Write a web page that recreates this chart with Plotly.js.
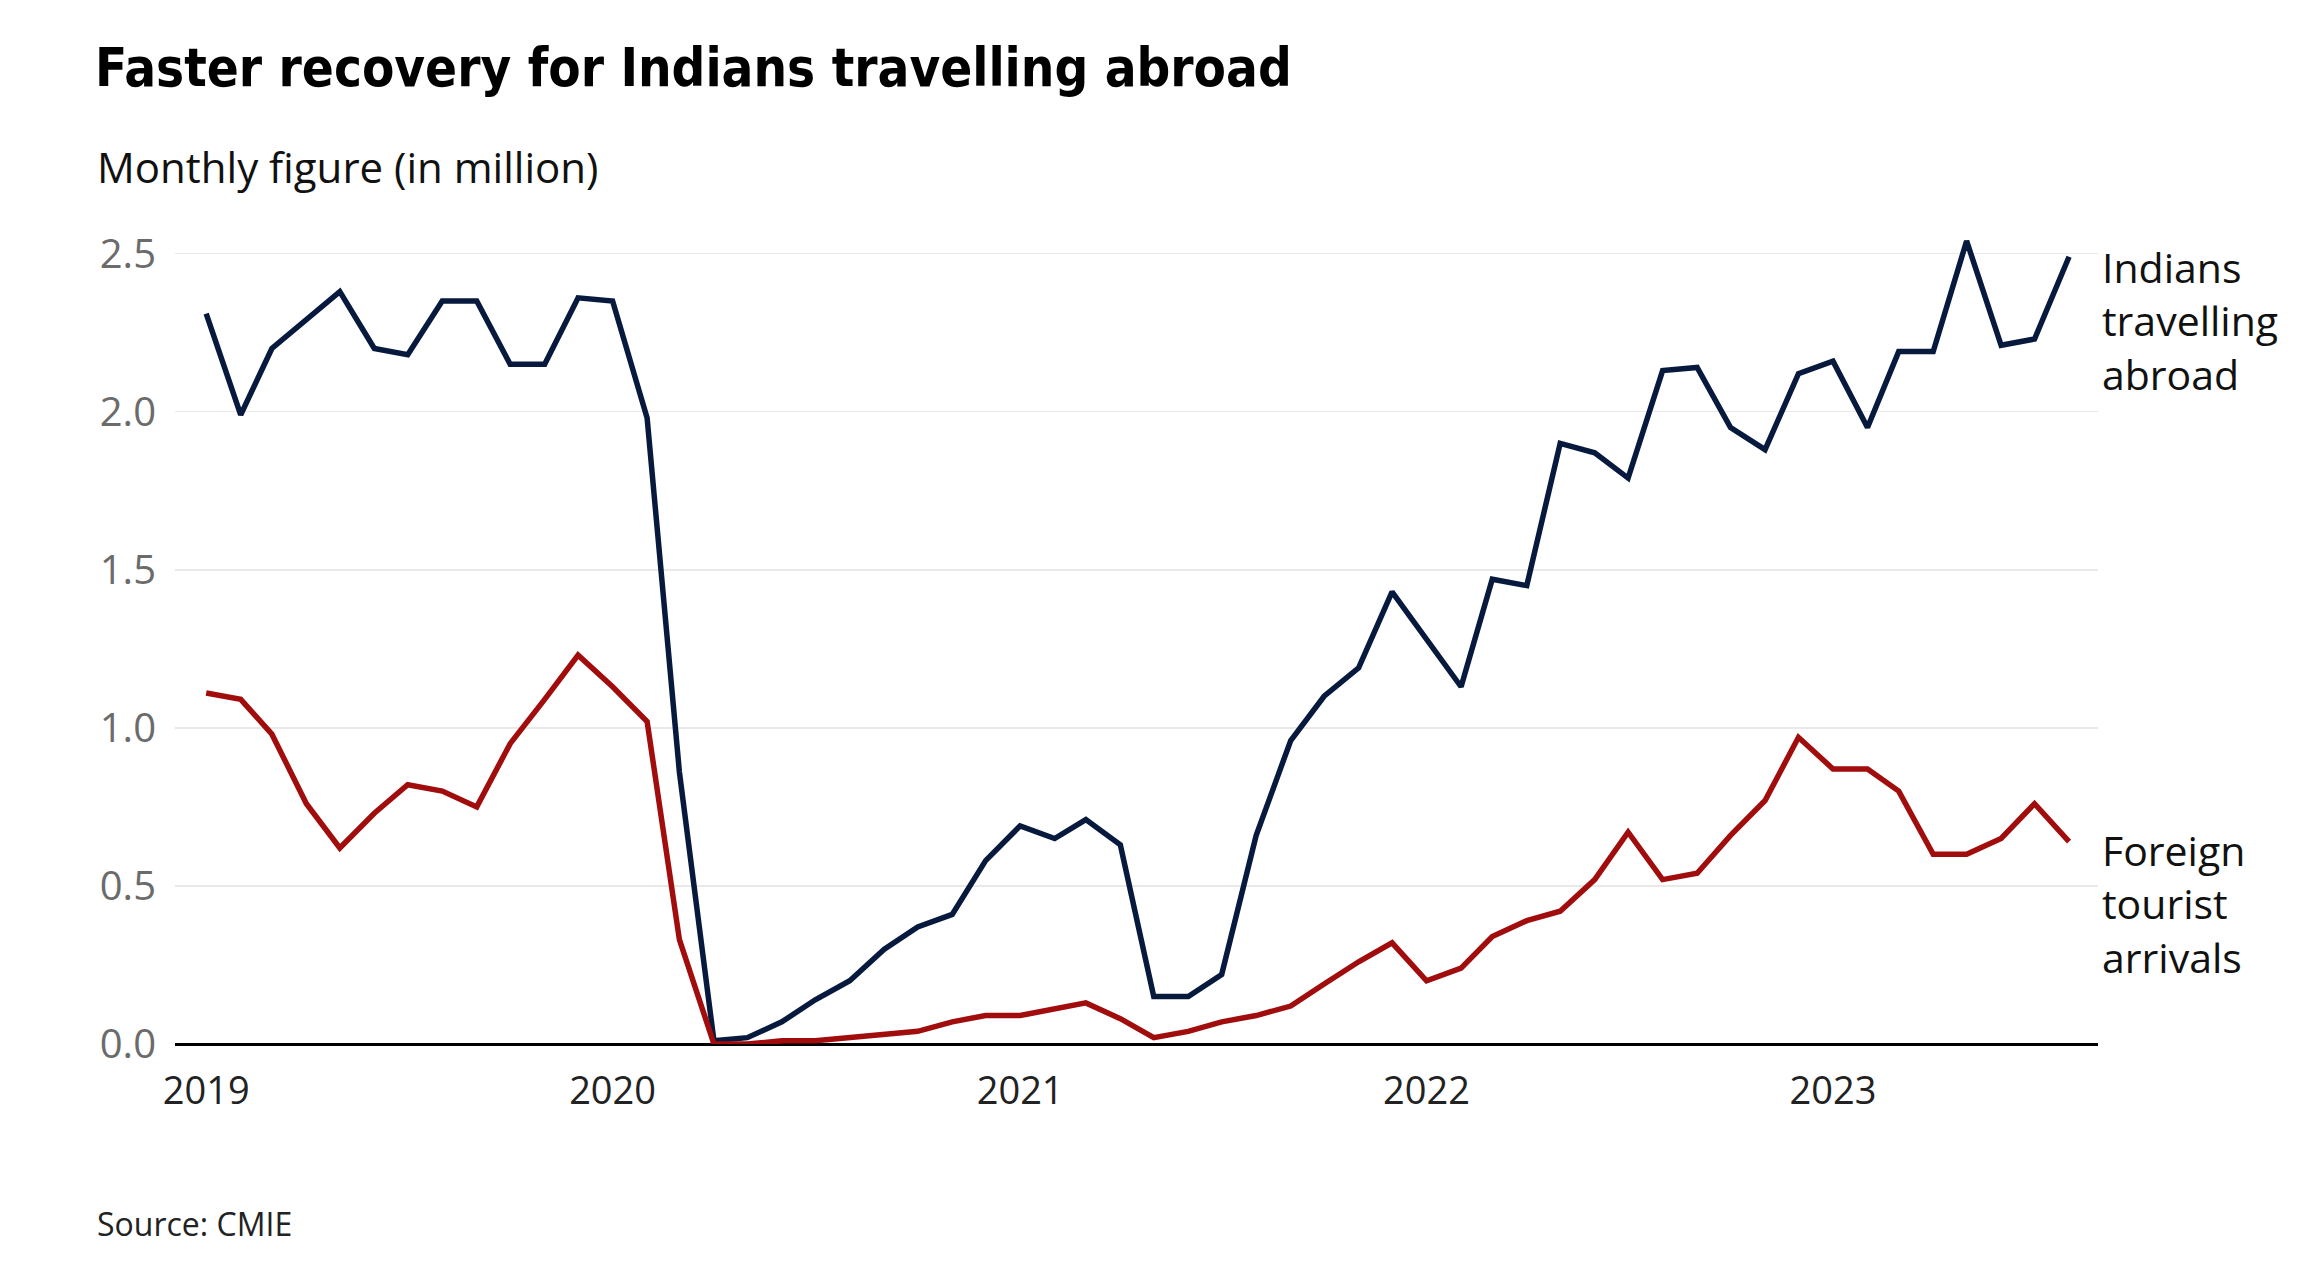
<!DOCTYPE html>
<html>
<head>
<meta charset="utf-8">
<script src="https://cdn.plot.ly/plotly-3.0.1.min.js"></script>
<style>
  html, body { margin: 0; padding: 0; background: #ffffff; }
  #chart { width: 2321px; height: 1275px; }
</style>
</head>
<body>
<div id="chart"></div>
<script>
// Months (Jan 2019 – Aug 2023)
const months = [
  "2019-01-01","2019-02-01","2019-03-01","2019-04-01","2019-05-01","2019-06-01","2019-07-01","2019-08-01","2019-09-01","2019-10-01","2019-11-01","2019-12-01",
  "2020-01-01","2020-02-01","2020-03-01","2020-04-01","2020-05-01","2020-06-01","2020-07-01","2020-08-01","2020-09-01","2020-10-01","2020-11-01","2020-12-01",
  "2021-01-01","2021-02-01","2021-03-01","2021-04-01","2021-05-01","2021-06-01","2021-07-01","2021-08-01","2021-09-01","2021-10-01","2021-11-01","2021-12-01",
  "2022-01-01","2022-02-01","2022-03-01","2022-04-01","2022-05-01","2022-06-01","2022-07-01","2022-08-01","2022-09-01","2022-10-01","2022-11-01","2022-12-01",
  "2023-01-01","2023-02-01","2023-03-01","2023-04-01","2023-05-01","2023-06-01","2023-07-01","2023-08-01"
];

// Indians travelling abroad (million)
const indiansAbroad = [
  2.31, 1.99, 2.20, 2.29, 2.38, 2.20, 2.18, 2.35, 2.35, 2.15, 2.15, 2.36,
  2.35, 1.98, 0.86, 0.01, 0.02, 0.07, 0.14, 0.20, 0.30, 0.37, 0.41, 0.58,
  0.69, 0.65, 0.71, 0.63, 0.15, 0.15, 0.22, 0.66, 0.96, 1.10, 1.19, 1.43,
  1.28, 1.13, 1.47, 1.45, 1.90, 1.87, 1.79, 2.13, 2.14, 1.95, 1.88, 2.12,
  2.16, 1.95, 2.19, 2.19, 2.54, 2.21, 2.23, 2.49
];

// Foreign tourist arrivals (million)
const foreignArrivals = [
  1.11, 1.09, 0.98, 0.76, 0.62, 0.73, 0.82, 0.80, 0.75, 0.95, 1.09, 1.23,
  1.13, 1.02, 0.33, 0.00, 0.00, 0.01, 0.01, 0.02, 0.03, 0.04, 0.07, 0.09,
  0.09, 0.11, 0.13, 0.08, 0.02, 0.04, 0.07, 0.09, 0.12, 0.19, 0.26, 0.32,
  0.20, 0.24, 0.34, 0.39, 0.42, 0.52, 0.67, 0.52, 0.54, 0.66, 0.77, 0.97,
  0.87, 0.87, 0.80, 0.60, 0.60, 0.65, 0.76, 0.64
];

const yTicks = [0, 0.5, 1.0, 1.5, 2.0, 2.5];
const yTickText = ["0.0", "0.5", "1.0", "1.5", "2.0", "2.5"];

const seriesNames = ["Indians<br>travelling<br>abroad", "Foreign<br>tourist<br>arrivals"];

const NAVY = "#071a3e";
const RED = "#a10d0d";

const traces = [
  {
    x: months, y: indiansAbroad, type: "scatter", mode: "lines",
    line: { color: NAVY, width: 5.5 }, name: "Indians travelling abroad",
    hoverinfo: "skip"
  },
  {
    x: months, y: foreignArrivals, type: "scatter", mode: "lines",
    line: { color: RED, width: 5.5 }, name: "Foreign tourist arrivals",
    hoverinfo: "skip"
  }
];

const layout = {
  width: 2321,
  height: 1275,
  paper_bgcolor: "#ffffff",
  plot_bgcolor: "#ffffff",
  showlegend: false,
  margin: { l: 175, r: 223, t: 222, b: 231, pad: 0 },
  font: { family: "'Open Sans', 'Noto Sans', sans-serif", color: "#222222" },
  title: {
    text: "Faster recovery for Indians travelling abroad",
    font: { family: "'Liberation Sans Narrow', 'DejaVu Sans Condensed', 'DejaVu Sans', sans-serif", size: 52.5, color: "#000000", weight: 700 },
    x: 95 / 2321, xref: "container", xanchor: "left",
    y: 1 - 68 / 1275, yref: "container", yanchor: "middle"
  },
  xaxis: {
    type: "date",
    range: ["2018-12-04", "2023-08-27"],
    dtick: "M12",
    tick0: "2019-01-01",
    tickformat: "%Y",
    showgrid: false,
    zeroline: false,
    showline: false,
    ticks: "",
    ticklabelstandoff: 21,
    tickfont: { family: "'Open Sans', sans-serif", size: 38, color: "#222222" }
  },
  yaxis: {
    range: [0, 2.6],
    tickvals: yTicks,
    ticktext: yTickText,
    showgrid: true,
    gridcolor: "#e9e9e9",
    gridwidth: 1.5,
    zeroline: true,
    zerolinecolor: "#000000",
    zerolinewidth: 3,
    showline: false,
    ticks: "",
    ticklabelstandoff: 18,
    tickfont: { family: "'Open Sans', sans-serif", size: 40, color: "#6b6b6b" }
  },
  annotations: [
    {
      text: "Monthly figure (in million)",
      xref: "paper", yref: "paper",
      x: (95 - 175) / 1923, y: (1044 - 166) / 822,
      xanchor: "left", yanchor: "middle", showarrow: false,
      font: { family: "'Open Sans', sans-serif", size: 42, color: "#111111" }
    },
    {
      text: "Source: CMIE",
      xref: "paper", yref: "paper",
      x: (95 - 175) / 1923, y: (1044 - 1223) / 822,
      xanchor: "left", yanchor: "middle", showarrow: false,
      font: { family: "'Open Sans', sans-serif", size: 32, color: "#222222" }
    },
    {
      text: seriesNames[0],
      xref: "paper", yref: "y",
      x: 1, y: 2.29, xshift: 2,
      xanchor: "left", yanchor: "middle", align: "left", showarrow: false,
      font: { family: "'Open Sans', sans-serif", size: 41, color: "#111111" }
    },
    {
      text: seriesNames[1],
      xref: "paper", yref: "y",
      x: 1, y: 0.446, xshift: 2,
      xanchor: "left", yanchor: "middle", align: "left", showarrow: false,
      font: { family: "'Open Sans', sans-serif", size: 41, color: "#111111" }
    }
  ]
};

Plotly.newPlot("chart", traces, layout, { staticPlot: true, displayModeBar: false });
</script>
</body>
</html>
